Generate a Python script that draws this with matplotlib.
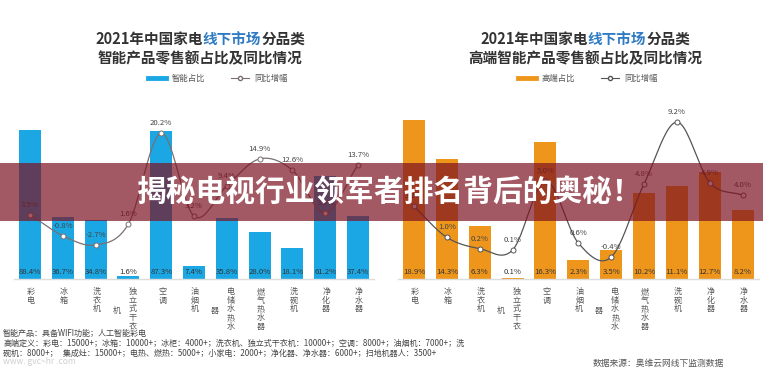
import numpy as np
import matplotlib
matplotlib.use('Agg')
import matplotlib.pyplot as plt
from matplotlib.lines import Line2D
from matplotlib.patches import Rectangle

plt.rcParams['font.family'] = ['Noto Sans CJK SC', 'DejaVu Sans']

# ---------------- data ----------------
categories = ['彩电', '冰箱', '洗衣机', '独立式干衣机', '空调', '油烟机',
              '电储水热水器', '燃气热水器', '洗碗机', '净化器', '净水器']
smart_share = [88.4, 36.7, 34.8, 1.6, 87.3, 7.4, 35.8, 28.0, 18.1, 61.2, 37.4]
smart_yoy = [3.5, -0.8, -2.7, 1.6, 20.2, 3.2, 9.4, 14.9, 12.6, 3.9, 13.7]
high_share = [18.9, 14.3, 6.3, 0.1, 16.3, 2.3, 3.5, 10.2, 11.1, 12.7, 8.2]
high_yoy = [3.2, 1.0, 0.2, 0.1, 5.0, 0.6, -0.4, 4.8, 9.2, 4.9, 4.0]

left_title = [('2021年中国家电', '#333333'), ('线下市场', '#2E7BC4'), ('分品类', '#333333')]
left_title2 = '智能产品零售额占比及同比情况'
right_title2 = '高端智能产品零售额占比及同比情况'
left_legend = ['智能占比', '同比增幅']
right_legend = ['高端占比', '同比增幅']
foot_lines = ['智能产品：具备WIFI功能；人工智能彩电',
              '高端定义：彩电：15000+；冰箱：10000+；冰柜：4000+；洗衣机、独立式干衣机：10000+；空调：8000+；油烟机：7000+；洗',
              '碗机：8000+；   集成灶：15000+；电热、燃热：5000+；小家电：2000+；净化器、净水器：6000+；扫地机器人：3500+']
watermark = 'www. gvc~hr .com'
source = '数据来源：奥维云网线下监测数据'
banner_text = '揭秘电视行业领军者排名背后的奥秘！'

BLUE = '#1AA7E4'
ORANGE = '#EE961C'
LINE_L = '#7a6f72'
LINE_R = '#555555'

W, H = 763, 385
fig = plt.figure(figsize=(W / 100, H / 100), dpi=100)
fig.patch.set_facecolor('white')


def fx(px):
    return px / W


def fy(py):
    return 1 - py / H


def smooth(xs, ys, n=24):
    x = np.asarray(xs, float)
    y = np.asarray(ys, float)
    m = np.zeros_like(y)
    m[1:-1] = (y[2:] - y[:-2]) / 2
    m[0] = y[1] - y[0]
    m[-1] = y[-1] - y[-2]
    X, Y = [], []
    for i in range(len(x) - 1):
        t = np.linspace(0, 1, n, endpoint=False)
        h00 = 2 * t**3 - 3 * t**2 + 1
        h10 = t**3 - 2 * t**2 + t
        h01 = -2 * t**3 + 3 * t**2
        h11 = t**3 - t**2
        X.append(x[i] + t * (x[i + 1] - x[i]))
        Y.append(h00 * y[i] + h10 * m[i] + h01 * y[i + 1] + h11 * m[i + 1])
    X.append([x[-1]])
    Y.append([y[-1]])
    return np.concatenate(X), np.concatenate(Y)


def make_panel(left_px, width_px, shares, yoy, bar_color, line_color,
               share_lim, yoy_lim):
    ax = fig.add_axes([fx(left_px), fy(279), fx(width_px), 169 / H])
    idx = np.arange(len(categories))
    ax.bar(idx, shares, width=0.67, color=bar_color, zorder=2)
    ax.set_xlim(-0.5, len(categories) - 0.5)
    ax.set_ylim(*share_lim)
    for s in ['top', 'right', 'left']:
        ax.spines[s].set_visible(False)
    ax.spines['bottom'].set_color('#dddddd')
    ax.spines['bottom'].set_linewidth(1.0)
    ax.set_xticks([])
    ax.set_yticks([])
    ax.patch.set_alpha(0)
    for i, v in enumerate(shares):
        ax.annotate(f'{v:.1f}%', xy=(i, 0), xytext=(0, 7), textcoords='offset pixels',
                    ha='center', va='center', fontsize=5.6, color='#333333', zorder=4)
    # category labels (vertical)
    for i, c in enumerate(categories):
        if len(c) > 5:
            main, extra = c[:5], c[5:]
            ax.annotate('\n'.join(main), xy=(i, 0), xytext=(4, -8),
                        textcoords='offset pixels', ha='center', va='top',
                        fontsize=5.8, color='#555555', linespacing=0.95,
                        annotation_clip=False)
            ax.annotate('\n'.join(extra), xy=(i, 0), xytext=(-12, -32),
                        textcoords='offset pixels', ha='center', va='center',
                        fontsize=5.8, color='#555555', annotation_clip=False)
        else:
            ax.annotate('\n'.join(c), xy=(i, 0), xytext=(1, -8),
                        textcoords='offset pixels', ha='center', va='top',
                        fontsize=5.8, color='#555555', linespacing=0.95,
                        annotation_clip=False)
    ax2 = ax.twinx()
    ax2.set_ylim(*yoy_lim)
    ax2.set_xlim(-0.5, len(categories) - 0.5)
    for s in ax2.spines.values():
        s.set_visible(False)
    ax2.set_yticks([])
    sx, sy = smooth(idx, yoy)
    ax2.plot(sx, sy, color=line_color, lw=0.9, zorder=3)
    ax2.plot(idx, yoy, 'o', ms=3.6, mfc='white', mec=line_color, mew=0.7, zorder=4)
    for i, v in enumerate(yoy):
        ax2.annotate(f'{v:.1f}%', xy=(i, v), xytext=(0, 6), textcoords='offset pixels',
                     ha='center', va='bottom', fontsize=5.6, color='#444444', zorder=5)
    return ax


axL = make_panel(13.6, 360.8, smart_share, smart_yoy, BLUE, LINE_L,
                 (0, 100), (-9.65, 24.9))
axR = make_panel(397.6, 361.4, high_share, high_yoy, ORANGE, LINE_R,
                 (0, 20.1), (-1.96, 10.06))

# legends
for ax, labels, col, lcol, cx in [(axL, left_legend, BLUE, LINE_L, 218),
                                  (axR, right_legend, ORANGE, LINE_R, 588)]:
    handles = [Line2D([], [], color=col, lw=3.5),
               Line2D([], [], color=lcol, lw=0.8, marker='o', ms=3, mfc='white', mec=lcol)]
    ax.legend(handles, labels, ncol=2, loc='center', bbox_to_anchor=(fx(cx), fy(78)),
              bbox_transform=fig.transFigure, frameon=False, fontsize=6,
              handlelength=2.2, handletextpad=0.7, columnspacing=3.0,
              labelcolor='#555555')

# overlay axes (pixel coordinates)
ov = fig.add_axes([0, 0, 1, 1], zorder=10)
ov.set_xlim(0, W)
ov.set_ylim(H, 0)
ov.axis('off')
ov.patch.set_alpha(0)

renderer = fig.canvas.get_renderer()


def segmented_text(segs, cx, cy, **kw):
    texts = [ov.text(0, cy, s, color=c, ha='left', va='center', **kw) for s, c in segs]
    widths = []
    for t in texts:
        bb = t.get_window_extent(renderer)
        widths.append(bb.width)
    total = sum(widths)
    x = cx - total / 2
    for t, w in zip(texts, widths):
        t.set_x(x)
        x += w


title_kw = dict(fontsize=10.5, fontweight='bold')
segmented_text(left_title, 200, 39, **title_kw)
segmented_text(left_title, 585, 39, **title_kw)
ov.text(200, 58, left_title2, ha='center', va='center', color='#333333', **title_kw)
ov.text(585, 58, right_title2, ha='center', va='center', color='#333333', **title_kw)

# footnotes
for i, line in enumerate(foot_lines):
    ov.text(3, 333 + i * 10, line, ha='left', va='center', fontsize=5.8, color='#444444')
ov.text(3, 362, watermark, ha='left', va='center', fontsize=6.1, color='#cfcfcf')
ov.text(593, 363, source, ha='left', va='center', fontsize=6.3, color='#555555')

# banner
ov.add_patch(Rectangle((0, 163), W, 58, facecolor=(0.49, 0.07, 0.13), alpha=0.7,
                       edgecolor='none', zorder=20))
ov.text(390, 192, banner_text, ha='center', va='center', color='white',
        fontsize=21.4, fontweight='heavy', zorder=21)

fig.savefig('out.png', dpi=100, facecolor='white')
